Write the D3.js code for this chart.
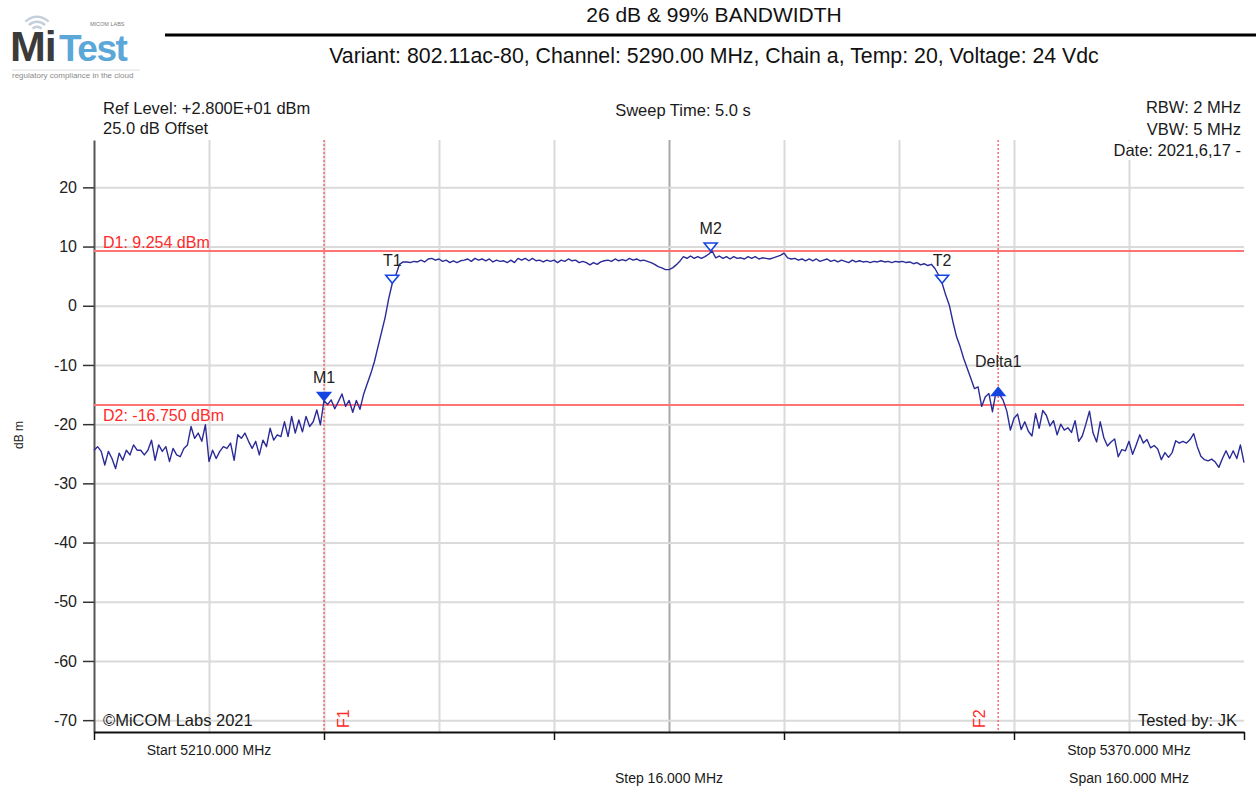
<!DOCTYPE html>
<html>
<head>
<meta charset="utf-8">
<script src="https://cdnjs.cloudflare.com/ajax/libs/d3/7.8.5/d3.min.js"></script>
<style>
body { margin: 0; background: #fff; }
text { font-family: "Liberation Sans", Arial, sans-serif; }
</style>
</head>
<body>
<div id="chart"></div>
<script>
// sweep settings
var startFreq = 5210;
var stopFreq = 5370;
var refLevel = 28;

// trace, one value per 0.5 MHz (dBm)
var traceLevels = [
    -24.4,-23.8,-24.6,-26.9,-24.6,-25.8,-27.5,-24.9,-26.1,-24.4,
    -25.2,-23.5,-24.4,-24.4,-25.2,-24.4,-22.7,-26.1,-23.5,-24.6,
    -23.8,-26.3,-24.1,-25.2,-25.5,-24.1,-23.5,-20.4,-22.4,-21.5,
    -22.9,-20.1,-26.3,-24.4,-25.8,-24.6,-23.8,-24.1,-23.2,-26.1,
    -21.8,-22.4,-21.5,-22.9,-24.1,-22.9,-25.2,-22.7,-23.8,-20.7,
    -22.7,-21.8,-22.1,-19.6,-22.1,-18.7,-21.5,-19.3,-21.3,-18.7,
    -20.4,-19.6,-17.6,-20.1,-16.0,-16.7,-15.9,-17.4,-16.2,-14.9,
    -17.0,-16.0,-18.0,-16.0,-17.5,-15.0,-13.2,-11.5,-9.5,-7.0,
    -4.5,-2.0,1.2,3.8,5.2,7.0,7.4,7.4,7.3,7.5,
    7.4,7.7,7.4,7.9,8.0,7.7,7.9,7.5,7.7,7.3,
    7.6,7.3,7.6,7.7,7.9,7.5,8.0,7.7,7.9,7.6,
    7.9,7.4,7.7,7.5,7.6,7.3,7.7,7.3,8.0,7.7,
    8.0,7.6,8.0,7.6,7.7,7.4,7.7,7.5,7.7,7.3,
    7.7,7.5,7.9,7.6,7.7,7.3,7.5,7.3,6.9,7.3,
    7.0,7.4,7.6,7.7,7.5,7.9,7.6,7.8,7.6,8.0,
    7.7,7.9,7.6,7.7,7.5,7.3,7.0,6.6,6.4,6.1,
    6.1,6.4,6.9,7.5,8.3,8.0,8.4,8.0,8.3,8.0,
    8.3,8.7,9.25,8.1,8.4,8.0,8.3,7.9,8.3,8.0,
    8.1,7.9,8.3,8.0,8.3,7.9,8.1,8.0,7.9,8.1,
    8.3,8.5,8.9,8.1,7.9,8.0,7.7,7.9,7.6,7.9,
    7.6,7.9,7.5,7.7,7.9,7.5,7.7,7.4,7.7,7.5,
    7.3,7.7,7.4,7.6,7.4,7.5,7.3,7.5,7.4,7.6,
    7.4,7.5,7.3,7.5,7.4,7.5,7.3,7.4,7.1,7.3,
    6.9,7.1,6.8,7.0,6.3,5.2,3.8,1.8,0.1,-2.7,
    -5.2,-6.9,-8.9,-10.6,-12.3,-14.0,-13.7,-17.0,-15.4,-14.8,
    -17.9,-14.5,-15.0,-16.0,-17.8,-21.0,-19.0,-18.3,-20.9,-19.6,
    -21.2,-22.0,-18.2,-20.7,-17.7,-18.5,-20.3,-19.4,-21.8,-20.0,
    -21.0,-20.6,-21.4,-19.4,-22.9,-22.0,-20.0,-17.8,-21.5,-23.0,
    -19.6,-22.3,-23.7,-23.0,-22.5,-25.5,-24.3,-24.5,-22.9,-25.1,
    -23.5,-21.8,-23.2,-22.6,-24.0,-23.6,-24.2,-26.0,-24.8,-25.6,
    -24.8,-22.8,-23.2,-22.9,-23.2,-22.6,-21.6,-23.8,-25.4,-26.0,
    -26.2,-25.9,-26.4,-27.3,-25.8,-24.5,-25.8,-24.5,-25.8,-23.5,
    -26.5
];

var yTickValues = [20, 10, 0, -10, -20, -30, -40, -50, -60, -70];

// markers
var markerNames = ["M1", "T1", "M2", "T2", "Delta1"];
var markerFreqs = [5242.0, 5251.5, 5295.8, 5328.0, 5335.8];
var markerLevels = [-16.0, 3.8, 9.25, 3.8, -13.8];
var markerFilled = [true, false, false, false, true];
var markerPointUp = [false, false, false, false, true];

// display lines (horizontal) and frequency lines (vertical)
var displayLineLabels = ["D1: 9.254 dBm", "D2: -16.750 dBm"];
var displayLineLevels = [9.254, -16.750];
var freqLineLabels = ["F1", "F2"];
var freqLineFreqs = [5242.0, 5335.8];

/**
 * Constructor for the bandwidth plot
 */
function BandwidthChart(){
    var self = this;
    self.init();
};

/**
 * Creates the svg and the scales
 */
BandwidthChart.prototype.init = function(){
    var self = this;
    self.svgWidth = 1256;
    self.svgHeight = 788;
    self.plot = {left: 94, right: 1244, top: 140, bottom: 732};

    self.svg = d3.select("#chart").append("svg")
        .attr("width", self.svgWidth)
        .attr("height", self.svgHeight);

    self.x = d3.scaleLinear()
        .domain([startFreq, stopFreq])
        .range([self.plot.left, self.plot.right]);

    self.y = d3.scaleLinear()
        .domain([refLevel - 100, refLevel])
        .range([self.plot.bottom, self.plot.top]);
};

/**
 * Draws the MiTest logo and the two header lines
 */
BandwidthChart.prototype.drawHeader = function(){
    var self = this;
    var logo = self.svg.append("g");

    //wifi arcs over the "i"
    [5, 10, 15].forEach(function(r){
        logo.append("path")
            .attr("d", d3.arc()({innerRadius: r, outerRadius: r + 2.4, startAngle: -0.8, endAngle: 0.8}))
            .attr("transform", "translate(37,33)")
            .style("fill", "#c3cfdb");
    });

    logo.append("text").text("Mi")
        .attr("x", 10).attr("y", 61)
        .style("font-size", "43px").style("font-weight", "bold")
        .style("fill", "#3b3b3b").style("letter-spacing", "-1px");
    logo.append("text").text("Test")
        .attr("x", 59).attr("y", 61)
        .style("font-size", "37px").style("font-weight", "bold")
        .style("fill", "#5ba7d8").style("letter-spacing", "-1.5px");
    logo.append("text").text("MICOM LABS")
        .attr("x", 90).attr("y", 26)
        .style("font-size", "5.5px").style("fill", "#7a7a7a");
    logo.append("line")
        .attr("x1", 12).attr("x2", 140).attr("y1", 70).attr("y2", 70)
        .style("stroke", "#dedede").style("stroke-width", 1);
    logo.append("text").text("regulatory compliance in the cloud")
        .attr("x", 12).attr("y", 78)
        .style("font-size", "8px").style("fill", "#8a8a8a");

    self.svg.append("text").text("26 dB & 99% BANDWIDTH")
        .attr("x", 714).attr("y", 22)
        .attr("text-anchor", "middle")
        .style("font-size", "21px").style("fill", "#111");

    self.svg.append("line")
        .attr("x1", 165).attr("x2", self.svgWidth)
        .attr("y1", 35).attr("y2", 35)
        .style("stroke", "#000").style("stroke-width", 3);

    self.svg.append("text").text("Variant: 802.11ac-80, Channel: 5290.00 MHz, Chain a, Temp: 20, Voltage: 24 Vdc")
        .attr("x", 714).attr("y", 63)
        .attr("text-anchor", "middle")
        .style("font-size", "21.3px").style("fill", "#111");
};

/**
 * Grid, axes and the text fields round the plot
 */
BandwidthChart.prototype.drawFrame = function(){
    var self = this;
    var p = self.plot;

    //vertical grid, one line per 16 MHz step
    var gridFreqs = d3.range(startFreq + 16, stopFreq, 16);
    self.svg.append("g")
        .attr("transform", "translate(0," + p.bottom + ")")
        .call(d3.axisBottom(self.x).tickValues(gridFreqs).tickSize(-(p.bottom - p.top)).tickFormat(""))
        .call(function(g){
            g.select(".domain").remove();
            g.selectAll(".tick line")
                .style("stroke", function(d){ return d == 5290 ? "#a9a9a9" : "#dadada"; })
                .style("stroke-width", 2);
        });

    //horizontal grid
    self.svg.append("g")
        .attr("transform", "translate(" + p.left + ",0)")
        .call(d3.axisLeft(self.y).tickValues(yTickValues).tickSize(-(p.right - p.left)).tickFormat(""))
        .call(function(g){
            g.select(".domain").remove();
            g.selectAll(".tick line").style("stroke", "#dadada").style("stroke-width", 2);
        });

    //y axis with labels (plain hyphen for negatives, as in the original)
    self.svg.append("g")
        .attr("transform", "translate(" + p.left + ",0)")
        .call(d3.axisLeft(self.y).tickValues(yTickValues).tickSize(11).tickPadding(6).tickSizeOuter(0)
            .tickFormat(function(d){ return String(d); }))
        .call(function(g){
            g.select(".domain").style("stroke", "#555").style("stroke-width", 2);
            g.selectAll(".tick line").style("stroke", "#333").style("stroke-width", 1.5);
            g.selectAll(".tick text")
                .style("font-size", "16px").style("fill", "#222")
                .style("font-family", "'Liberation Sans', Arial, sans-serif");
        });

    //x axis: ticks only, every other grid line
    self.svg.append("g")
        .attr("transform", "translate(0," + p.bottom + ")")
        .call(d3.axisBottom(self.x).tickValues(d3.range(startFreq, stopFreq + 1, 32)).tickSize(8).tickSizeOuter(0).tickFormat(""))
        .call(function(g){
            g.select(".domain").style("stroke", "#111").style("stroke-width", 2);
            g.selectAll(".tick line").style("stroke", "#111").style("stroke-width", 1.5);
        });

    self.svg.append("text").text("dB m")
        .attr("transform", "translate(23,435) rotate(-90)")
        .attr("text-anchor", "middle")
        .style("font-size", "12px").style("fill", "#222");

    var info = [
        {t: "Ref Level: +2.800E+01 dBm", x: 103, y: 114, a: "start"},
        {t: "25.0 dB Offset", x: 103, y: 134, a: "start"},
        {t: "Sweep Time: 5.0 s", x: 683, y: 116, a: "middle"},
        {t: "RBW: 2 MHz", x: 1241, y: 113, a: "end"},
        {t: "VBW: 5 MHz", x: 1241, y: 135, a: "end"},
        {t: "©MiCOM Labs 2021", x: 103, y: 726, a: "start"},
        {t: "Tested by: JK", x: 1237, y: 726, a: "end"}
    ];
    self.svg.selectAll("text.info")
        .data(info)
        .enter()
        .append("text")
        .classed("info", true)
        .text(function(d){ return d.t; })
        .attr("x", function(d){ return d.x; })
        .attr("y", function(d){ return d.y; })
        .attr("text-anchor", function(d){ return d.a; })
        .style("font-size", "16.5px")
        .style("fill", "#1a1a1a");

    //date sits in a white box over the grid
    self.svg.append("rect")
        .attr("x", 1104).attr("y", 141).attr("width", 140).attr("height", 19)
        .style("fill", "#fff");
    self.svg.append("text").text("Date: 2021,6,17 -")
        .attr("x", 1241).attr("y", 156)
        .attr("text-anchor", "end")
        .style("font-size", "16.5px").style("fill", "#1a1a1a");

    var foot = [
        {t: "Start 5210.000 MHz", f: startFreq + 16, y: 755},
        {t: "Stop 5370.000 MHz", f: stopFreq - 16, y: 755},
        {t: "Step 16.000 MHz", f: (startFreq + stopFreq) / 2, y: 783},
        {t: "Span 160.000 MHz", f: stopFreq - 16, y: 783}
    ];
    self.svg.selectAll("text.foot")
        .data(foot)
        .enter()
        .append("text")
        .classed("foot", true)
        .text(function(d){ return d.t; })
        .attr("x", function(d){ return self.x(d.f); })
        .attr("y", function(d){ return d.y; })
        .attr("text-anchor", "middle")
        .style("font-size", "14px")
        .style("fill", "#1a1a1a");
};

/**
 * Display lines, frequency lines, trace and markers
 */
BandwidthChart.prototype.update = function(){
    var self = this;
    var p = self.plot;

    //D1 / D2
    displayLineLevels.forEach(function(lvl, i){
        self.svg.append("line")
            .attr("x1", p.left).attr("x2", p.right)
            .attr("y1", self.y(lvl)).attr("y2", self.y(lvl))
            .style("stroke", "#ff7575").style("stroke-width", 2);
        self.svg.append("text").text(displayLineLabels[i])
            .attr("x", 103)
            .attr("y", i == 0 ? self.y(lvl) - 3 : self.y(lvl) + 16)
            .style("font-size", "16px").style("fill", "#ff2a2a");
    });

    //F1 / F2
    freqLineFreqs.forEach(function(f, i){
        self.svg.append("line")
            .attr("x1", self.x(f)).attr("x2", self.x(f))
            .attr("y1", p.top).attr("y2", p.bottom)
            .style("stroke", "#ff6b6b").style("stroke-width", 1.5)
            .style("stroke-dasharray", "2,2");
        var lx = i == 0 ? self.x(f) + 25 : self.x(f) - 13;
        self.svg.append("text").text(freqLineLabels[i])
            .attr("transform", "translate(" + lx + ",728) rotate(-90)")
            .style("font-size", "16px").style("fill", "#ff2a2a");
    });

    //the trace
    var step = (stopFreq - startFreq) / (traceLevels.length - 1);
    var line = d3.line()
        .x(function(d, i){ return self.x(startFreq + i * step); })
        .y(function(d){ return self.y(d); });

    self.svg.append("path")
        .datum(traceLevels)
        .attr("d", line)
        .style("fill", "none")
        .style("stroke", "#2b2b98")
        .style("stroke-width", 1.4)
        .style("stroke-linejoin", "round");

    //markers
    markerNames.forEach(function(name, i){
        var mx = self.x(markerFreqs[i]);
        var my = self.y(markerLevels[i]);
        var tri, ly;
        if (markerPointUp[i]){
            tri = [[mx, my], [mx - 6.5, my + 8], [mx + 6.5, my + 8]];
            ly = my - 20;
        }
        else {
            tri = [[mx, my], [mx - 6.5, my - 8], [mx + 6.5, my - 8]];
            ly = my - 17;
        }
        self.svg.append("path")
            .attr("d", "M" + tri.join("L") + "Z")
            .style("fill", markerFilled[i] ? "#1545e0" : "#fff")
            .style("stroke", "#1545e0")
            .style("stroke-width", 1.6);
        self.svg.append("text").text(name)
            .attr("x", mx).attr("y", ly)
            .attr("text-anchor", "middle")
            .style("font-size", "16px").style("fill", "#222");
    });
};

var chart = new BandwidthChart();
chart.drawHeader();
chart.drawFrame();
chart.update();
</script>
</body>
</html>
